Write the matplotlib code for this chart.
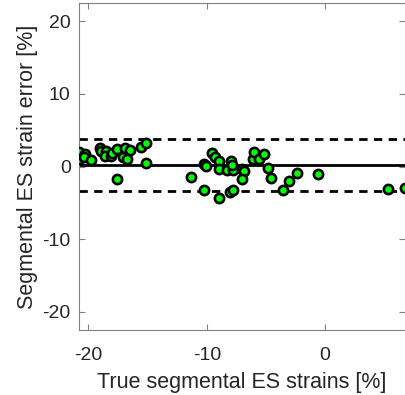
import matplotlib
matplotlib.use("Agg")
import matplotlib.pyplot as plt
import numpy as np

# True segmental ES strains [%]
true_strain = [-20.8, -20.8, -20.3, -20.4, -19.8, -19.0, -18.9, -18.5, -18.6, -18.1,
               -18.0, -17.55, -17.55, -17.05, -16.9, -16.75, -16.5, -15.55, -15.1, -15.1,
               -11.35, -10.2, -10.05, -9.6, -9.3, -9.0, -9.0, -10.2, -8.97, -8.3,
               -7.97, -7.8, -7.9, -8.03, -7.75, -7.05, -6.85, -7.05, -6.1, -6.0,
               -5.55, -5.2, -4.8, -4.6, -3.6, -3.05, -2.4, -0.57, 5.35, 6.75]
# Segmental ES strain error [%]
strain_error = [1.95, 1.05, 1.7, 1.3, 0.85, 2.5, 2.1, 2.2, 1.5, 1.45,
                1.8, 2.4, -1.75, 1.35, 2.5, 1.0, 2.3, 2.7, 3.2, 0.5,
                -1.4, 0.35, 0.1, 1.8, 1.3, 0.7, -0.3, -3.2, -4.4, -0.5,
                0.75, -0.45, 0.2, -3.5, -3.3, -0.4, -0.6, -1.7, 1.0, 2.0,
                1.0, 1.7, -0.25, -1.6, -3.3, -1.95, -0.85, -1.07, -3.15, -2.9]

mean_err = 0.23
upper_loa = 3.79
lower_loa = -3.33

xticks = [-20, -10, 0]
yticks = [-20, -10, 0, 10, 20]

plt.rcParams['font.family'] = ['Liberation Sans', 'DejaVu Sans']
plt.rcParams['axes.unicode_minus'] = False

fig = plt.figure(figsize=(4.06, 3.95), dpi=100)
ax = fig.add_axes([79/406, 1 - 330/395, (405 - 79)/406, (330 - 3)/395])

ax.scatter(true_strain, strain_error, s=44, facecolor='#00ff00', edgecolor='black',
           linewidth=1.9, zorder=3, clip_on=True)
ax.axhline(mean_err, color='black', lw=2.0, zorder=2)
ax.axhline(upper_loa, color='black', lw=2.0, ls=(0, (3, 2.3)), zorder=2)
ax.axhline(lower_loa, color='black', lw=2.0, ls=(0, (3, 2.3)), zorder=2)

ax.set_xlim(min(true_strain), max(true_strain))
ax.set_ylim(-22.5, 22.5)
ax.set_xticks(xticks)
ax.set_yticks(yticks)

for sp in ax.spines.values():
    sp.set_color('#808080')
    sp.set_linewidth(0.8)
ax.tick_params(direction='in', length=4, width=0.8, color='#808080',
               labelsize=14, labelcolor='#262626', top=True, right=True,
               labeltop=False, labelright=False)
ax.tick_params(axis='x', pad=12)
ax.tick_params(axis='y', pad=6)
ax.set_xlabel('True segmental ES strains [%]', fontsize=15.5, color='#262626', labelpad=6)
ax.set_ylabel('Segmental ES strain error [%]', fontsize=15.5, color='#262626', labelpad=3)

fig.savefig('out.png', dpi=100)
